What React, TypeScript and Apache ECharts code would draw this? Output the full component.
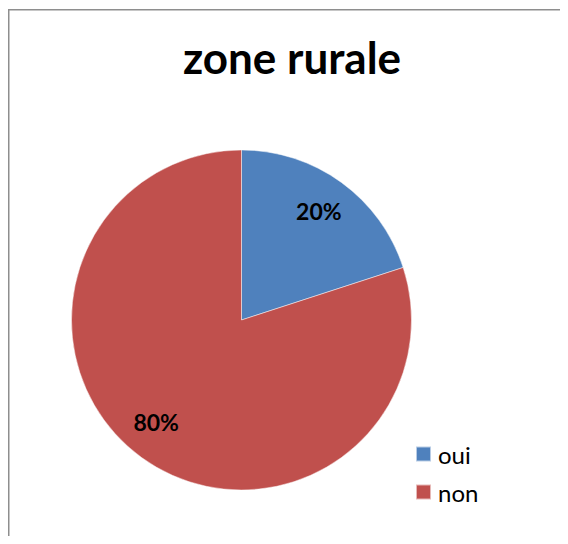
import React, { useEffect, useRef } from "react";
import * as echarts from "echarts";

const titleText = "zone rurale";
const categories = ["oui", "non"];
const values = [20, 80];
const colors = ["#4F81BD", "#C0504D"];

export default function App() {
  const ref = useRef<HTMLDivElement>(null);
  useEffect(() => {
    if (!ref.current) return;
    const chart = echarts.init(ref.current, null, { renderer: "svg" });
    const data = categories.map((name, i) => ({
      name,
      value: values[i],
      itemStyle: { color: colors[i] },
    }));
    chart.setOption({
      animation: false,
      backgroundColor: "#ffffff",
      title: {
        text: titleText,
        left: 284,
        top: 27,
        textAlign: "center",
        padding: 0,
        textStyle: {
          fontFamily: "Lato",
          fontWeight: "bold",
          fontSize: 44,
          color: "#000000",
        },
      },
      legend: {
        orient: "vertical",
        left: 407,
        top: 434,
        padding: 0,
        itemWidth: 15,
        itemHeight: 15,
        itemGap: 14,
        icon: "rect",
        textStyle: {
          fontFamily: "Lato",
          fontSize: 24,
          lineHeight: 24,
          color: "#000000",
          padding: [0, 0, 0, 2],
        },
        data: categories,
      },
      graphic: [
        {
          type: "line",
          silent: true,
          shape: { x1: 0, y1: 1.75, x2: 560, y2: 1.75 },
          style: { stroke: "#8e8e8e", lineWidth: 1.5 },
        },
        {
          type: "line",
          silent: true,
          shape: { x1: 0.75, y1: 1, x2: 0.75, y2: 528 },
          style: { stroke: "#8e8e8e", lineWidth: 1.5 },
        },
      ],
      series: [
        {
          type: "pie",
          center: [233.5, 312],
          radius: [0, 170],
          startAngle: 90,
          clockwise: true,
          silent: true,
          label: { show: false },
          labelLine: { show: false },
          itemStyle: { borderColor: "rgba(255,255,255,0.6)", borderWidth: 0.8 },
          data,
        },
        {
          type: "pie",
          center: [233.5, 312],
          radius: [0, 264],
          startAngle: 90,
          clockwise: true,
          silent: true,
          z: 5,
          itemStyle: { color: "transparent", borderWidth: 0 },
          label: {
            show: true,
            position: "inside",
            formatter: "{c}%",
            fontFamily: "Lato",
            fontWeight: "bold",
            fontSize: 23,
            color: "#000000",
          },
          labelLine: { show: false },
          data: categories.map((name, i) => ({
            name: name + "_label",
            value: values[i],
            label: i === 1 ? { offset: [-6, -7] } : { offset: [-2, 0] },
          })),
        },
      ],
    });
    return () => chart.dispose();
  }, []);
  return <div ref={ref} style={{ width: 560, height: 528 }} />;
}
